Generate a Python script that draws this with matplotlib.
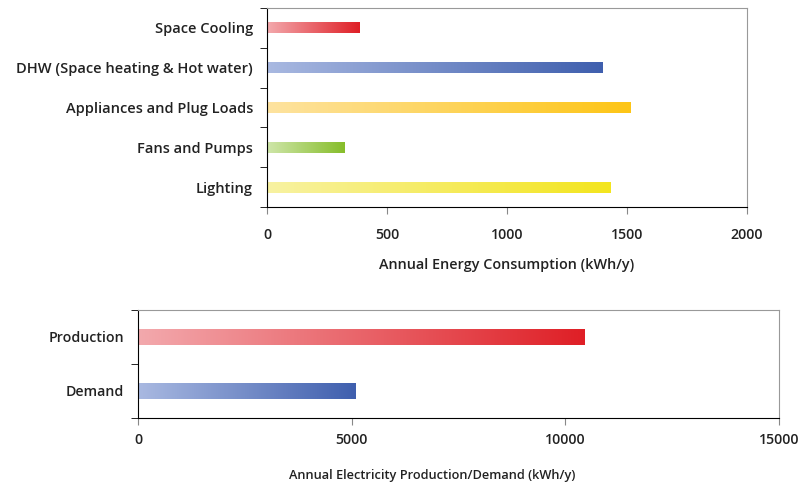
import numpy as np
import matplotlib.pyplot as plt
from matplotlib.colors import LinearSegmentedColormap

plt.rcParams['font.family'] = ['Open Sans', 'DejaVu Sans']

# top chart data (listed top to bottom)
uses = ["Space Cooling", "DHW (Space heating & Hot water)",
        "Appliances and Plug Loads", "Fans and Pumps", "Lighting"]
consumption = [385, 1400, 1515, 323, 1430]
use_colors = [("#f3a9ad", "#df1f26"), ("#a9b9e1", "#3f5fae"),
              ("#fde3a0", "#fdc516"), ("#cfe6aa", "#86bd2a"),
              ("#f8f2a2", "#f3e51e")]

# bottom chart data
balance = ["Production", "Demand"]
balance_vals = [10450, 5100]
balance_colors = [("#f3a9ad", "#df1f26"), ("#a9b9e1", "#3f5fae")]

W, H = 812, 488
fig = plt.figure(figsize=(W / 100, H / 100), dpi=100)


def gradient_bars(ax, names, vals, cols, xmax, xticks, xlabel,
                  ysize, xpad, lab_x, lab_y, lab_size):
    n = len(names)
    ypos = np.arange(n)[::-1]
    bars = ax.barh(ypos, vals, height=0.28, color='none', edgecolor='none')
    grad = np.linspace(0, 1, 256).reshape(1, -1)
    for b, (c0, c1) in zip(bars, cols):
        cmap = LinearSegmentedColormap.from_list('g', [c0, c1])
        x0, y0 = b.get_x(), b.get_y()
        im = ax.imshow(grad, cmap=cmap, aspect='auto',
                       extent=(x0, x0 + b.get_width(), y0, y0 + b.get_height()),
                       zorder=2)
        im.set_clip_path(b)
    ax.set_xlim(0, xmax)
    ax.set_ylim(-0.5, n - 0.5)
    ax.set_yticks(ypos, names, fontweight='semibold')
    ax.set_yticks(np.arange(n + 1) - 0.5, minor=True)
    ax.tick_params(axis='y', which='major', length=0, pad=10, labelsize=ysize,
                   labelcolor='#222222')
    ax.tick_params(axis='y', which='minor', length=5, direction='out', color='black')
    ax.set_xticks(xticks, [str(t) for t in xticks], fontweight='semibold')
    ax.tick_params(axis='x', length=5, direction='out', color='#888888',
                   pad=xpad, labelsize=10.2, labelcolor='#222222')
    for s in ['top', 'right']:
        ax.spines[s].set_color('#999999')
    ax.spines['left'].set_color('black')
    ax.spines['bottom'].set_color('black')
    lab = ax.set_xlabel(xlabel, fontsize=lab_size, fontweight='semibold',
                        color='#222222')
    lab.set_va('center')
    ax.xaxis.set_label_coords(lab_x, lab_y)


ax1 = fig.add_axes([267 / W, 1 - 207 / H, (747 - 267) / W, (207 - 8) / H])
gradient_bars(ax1, uses, consumption, use_colors, 2000,
              [0, 500, 1000, 1500, 2000], "Annual Energy Consumption (kWh/y)",
              10.5, 10, 0.5, (207 - 265) / 199, 10.4)

ax2 = fig.add_axes([138 / W, 1 - 418 / H, (779 - 138) / W, (418 - 310) / H])
gradient_bars(ax2, balance, balance_vals, balance_colors, 15000,
              [0, 5000, 10000, 15000], "Annual Electricity Production/Demand (kWh/y)",
              10.2, 6, (432 - 138) / 641, (418 - 476) / 108, 9.2)

fig.savefig("out.png", dpi=100)
